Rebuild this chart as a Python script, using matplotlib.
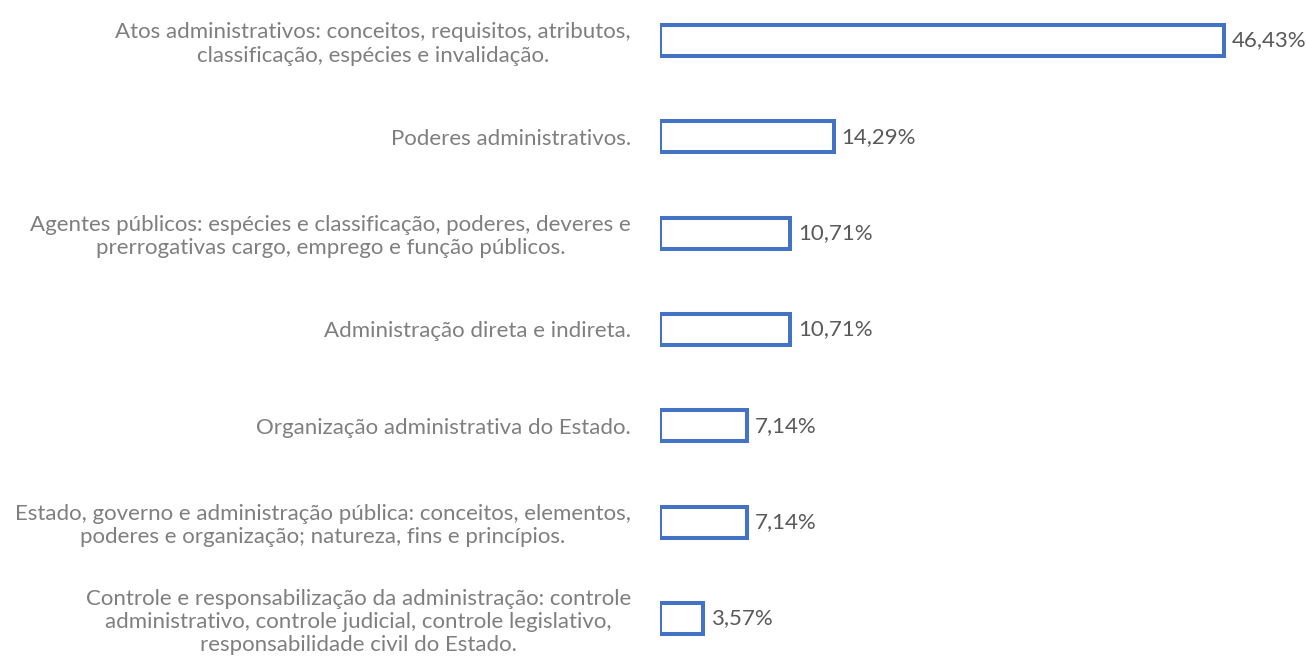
import matplotlib
matplotlib.use("Agg")
from matplotlib import pyplot as plt

# data (top to bottom)
topics = [
    "Atos administrativos: conceitos, requisitos, atributos,\nclassificação, espécies e invalidação.",
    "Poderes administrativos.",
    "Agentes públicos: espécies e classificação, poderes, deveres e\nprerrogativas cargo, emprego e função públicos.",
    "Administração direta e indireta.",
    "Organização administrativa do Estado.",
    "Estado, governo e administração pública: conceitos, elementos,\npoderes e organização; natureza, fins e princípios.",
    "Controle e responsabilização da administração: controle\nadministrativo, controle judicial, controle legislativo,\nresponsabilidade civil do Estado.",
]
shares = [46.43, 14.29, 10.71, 10.71, 7.14, 7.14, 3.57]

BLUE = "#4472C4"
LABEL_GREY = "#7F7F7F"
VALUE_GREY = "#595959"

plt.rcParams["font.family"] = ["Lato", "DejaVu Sans"]

fig = plt.figure(figsize=(13.06, 6.58), dpi=100)
ax = fig.add_axes([660 / 1306, 0, 607.5 / 1306, 1])

pos = list(range(len(topics)))
bars = ax.barh(pos, shares, height=0.32, color="white", edgecolor=BLUE, linewidth=2.9)

ax.set_xlim(0, 50)
ax.set_ylim(6.41, -0.42)

ax.set_yticks(pos)
ax.set_yticklabels(topics, fontsize=16, color=LABEL_GREY, linespacing=1.2)
for lab in ax.get_yticklabels():
    lab.set_multialignment("center")
ax.tick_params(axis="y", length=0, pad=21)
ax.set_xticks([])

ax.bar_label(bars, labels=[f"{v:.2f}%".replace(".", ",") for v in shares],
             padding=5.5, fontsize=16, color=VALUE_GREY)

for s in ax.spines.values():
    s.set_visible(False)

fig.savefig("out.png", dpi=100)
